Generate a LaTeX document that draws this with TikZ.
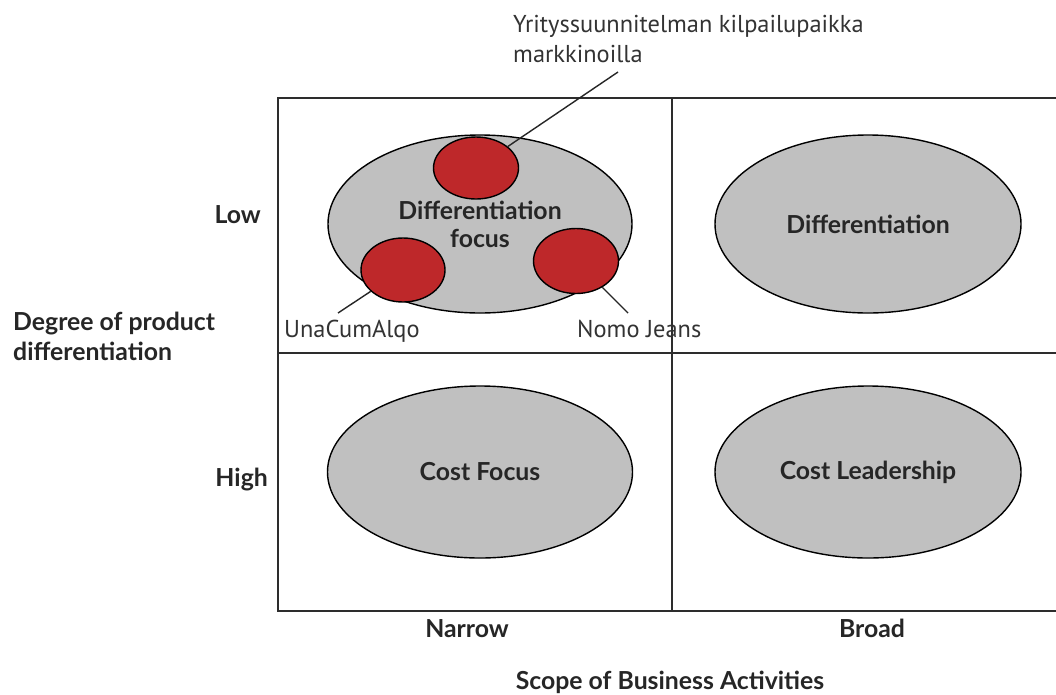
\documentclass[tikz,border=0pt]{standalone}
\usepackage{fontspec}
\setmainfont{PT Sans}
\newfontfamily\boldlbl{Lato}
\usetikzlibrary{shapes.geometric}
\definecolor{ovalgray}{RGB}{192,192,192}
\definecolor{dotred}{RGB}{190,40,42}
\definecolor{gridline}{RGB}{45,45,45}
\tikzset{
  grid/.style={draw=gridline, line width=1.8pt},
  oval/.style={ellipse, draw=black, line width=1.4pt, fill=ovalgray, inner sep=0pt,
    font=\boldlbl\fontsize{24.8}{29}\selectfont\bfseries, align=center, text=black!85},
  dot/.style={ellipse, draw=black, line width=1.4pt, fill=dotred, inner sep=0pt},
  lbl/.style={font=\fontsize{24.4}{30}\selectfont, text=black!80, inner sep=0pt},
  axis/.style={font=\boldlbl\fontsize{24.8}{30}\selectfont\bfseries, text=black!85, inner sep=0pt},
  leader/.style={draw=black!85, line width=1.4pt}
}
\begin{document}
\begin{tikzpicture}[x=1pt,y=-1pt]
\useasboundingbox (0,0) rectangle (1056,694);
\fill[white] (0,0) rectangle (1056,694);
% grid
\draw[grid] (1056,98) -- (278,98) -- (278,611) -- (1056,611);
\draw[grid] (278,353) -- (1056,353);
\draw[grid] (672,98) -- (672,611);
% ovals
\node[oval, minimum width=304pt, minimum height=178pt] (dfoc) at (480,224) {Differentiation\\[-1pt]focus};
\node[oval, minimum width=306pt, minimum height=178pt] (diff) at (868,224) {Differentiation};
\node[oval, minimum width=305pt, minimum height=172pt] (cfoc) at (480,472) {Cost Focus};
\node[oval, minimum width=306pt, minimum height=172pt] (clead) at (868,472) {Cost Leadership};
% red dots
\node[dot, minimum width=85pt, minimum height=62pt] (red1) at (476,168) {};
\node[dot, minimum width=84pt, minimum height=64pt] (red2) at (403,270) {};
\node[dot, minimum width=85pt, minimum height=65pt] (red3) at (576,261) {};
% labels
\node[lbl, anchor=base west, align=left] (yrit) at (513,32) {Yrityssuunnitelman kilpailupaikka};
\node[lbl, anchor=base west] (mark) at (513,62) {markkinoilla};
\node[lbl, anchor=base west] (una) at (284,337) {UnaCumAlqo};
\node[lbl, anchor=base west] (nomo) at (577,337) {Nomo Jeans};
\coordinate (ytip) at (618,72);
\coordinate (utip) at (338,313);
\coordinate (ntip) at (628,313);
\draw[leader] (red1) -- (ytip);
\draw[leader] (red2) -- (utip);
\draw[leader] (red3) -- (ntip);
% axis labels
\node[axis, anchor=base east] (low) at (261,223) {Low};
\node[axis, anchor=base east] (high) at (268,486) {High};
\node[axis, anchor=base west] (deg1) at (13,330) {Degree of product};
\node[axis, anchor=base west] (deg2) at (13,360) {differentiation};
\node[axis, anchor=base] (narrow) at (467,637) {Narrow};
\node[axis, anchor=base] (broad) at (872,637) {Broad};
\node[axis, anchor=base] (scope) at (670,689) {Scope of Business Activities};
\end{tikzpicture}
\end{document}
